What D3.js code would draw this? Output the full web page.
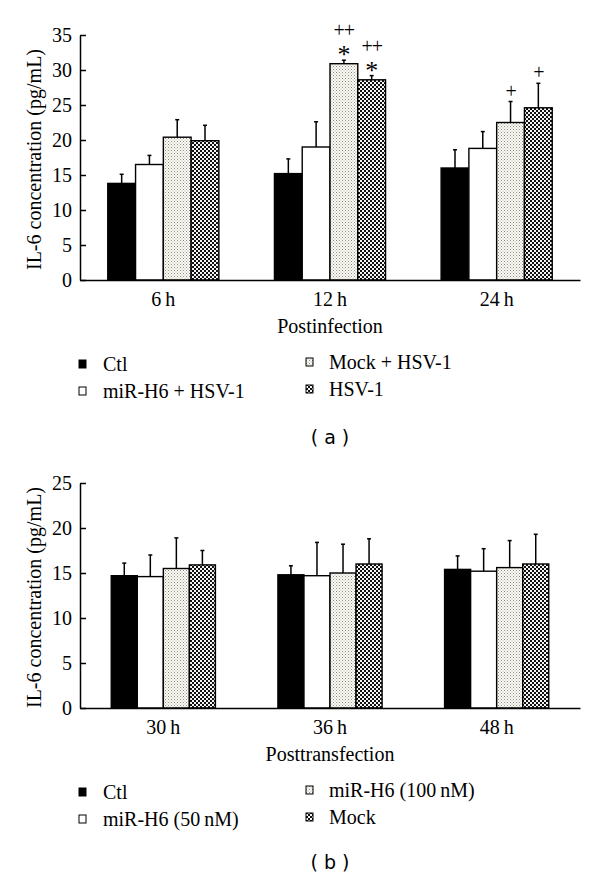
<!DOCTYPE html>
<html><head><meta charset="utf-8">
<script src="https://cdn.jsdelivr.net/npm/d3@7"></script>
<style>
body{margin:0;background:#fff;}
svg text{font-family:"Liberation Serif","Times New Roman",serif;fill:#000;}
</style></head>
<body><svg id="c" width="600" height="879"></svg>
<script>
// ---- data panel (a)
const catsA = ["6\u2009h","12\u2009h","24\u2009h"];
const seriesA = ["Ctl","miR-H6 + HSV-1","Mock + HSV-1","HSV-1"];
const ctlA   = [13.8, 15.2, 16.0];
const mirA   = [16.5, 19.0, 18.8];
const mockA  = [20.4, 30.9, 22.5];
const hsvA   = [19.9, 28.6, 24.6];
const ctlAErr  = [1.3, 2.1, 2.6];
const mirAErr  = [1.3, 3.6, 2.4];
const mockAErr = [2.5, 0.5, 3.0];
const hsvAErr  = [2.2, 0.6, 3.5];
const annotA = [
  {cat:1, s:2, labels:["*","++"]},
  {cat:1, s:3, labels:["*","++"]},
  {cat:2, s:2, labels:["+"]},
  {cat:2, s:3, labels:["+"]}
];
const ticksA = [0,5,10,15,20,25,30,35];

// ---- data panel (b)
const catsB = ["30\u2009h","36\u2009h","48\u2009h"];
const seriesB = ["Ctl","miR-H6 (50\u2009nM)","miR-H6 (100\u2009nM)","Mock"];
const ctlB   = [14.7, 14.8, 15.4];
const m50B   = [14.6, 14.7, 15.2];
const m100B  = [15.5, 15.0, 15.6];
const mockB  = [15.9, 16.0, 16.0];
const ctlBErr  = [1.4, 1.0, 1.5];
const m50BErr  = [2.4, 3.7, 2.5];
const m100BErr = [3.4, 3.2, 3.0];
const mockBErr = [1.6, 2.8, 3.3];
const ticksB = [0,5,10,15,20,25];

const svg = d3.select("#c");
const defs = svg.append("defs");
// stipple pattern
const p1 = defs.append("pattern").attr("id","dots").attr("patternUnits","userSpaceOnUse").attr("width",3).attr("height",3);
p1.append("rect").attr("width",3).attr("height",3).attr("fill","#fdfdf6");
p1.append("rect").attr("x",0).attr("y",0).attr("width",1).attr("height",1).attr("fill","#8c8c84");
p1.append("rect").attr("x",1.5).attr("y",1.5).attr("width",1).attr("height",1).attr("fill","#a8a0a0");
// checker pattern
const p2 = defs.append("pattern").attr("id","check").attr("patternUnits","userSpaceOnUse").attr("width",4).attr("height",4);
p2.append("rect").attr("width",4).attr("height",4).attr("fill","#111");
p2.append("rect").attr("x",0).attr("y",0).attr("width",2).attr("height",2).attr("fill","#f4f4f4");
p2.append("rect").attr("x",2).attr("y",2).attr("width",2).attr("height",2).attr("fill","#f4f4f4");

const fills = ["#000","#fff","url(#dots)","url(#check)"];
const FS = 20;

function panel(cfg){
  const x = d3.scaleBand().domain(cfg.cats).range([80,580]).paddingInner(cfg.pad).paddingOuter(cfg.pad/2);
  const xs = d3.scaleBand().domain(d3.range(4)).range([0,x.bandwidth()]);
  const y = d3.scaleLinear().domain([0,cfg.max]).range([cfg.y0,cfg.y1]);
  const g = svg.append("g");
  const rows = [];
  cfg.cats.forEach((c,i)=>{
    cfg.vals.forEach((arr,s)=>{
      rows.push({c, i, s, v:arr[i], e:cfg.errs[s][i]});
    });
  });
  const cxOf = d=>x(d.c)+xs(d.s)+xs.bandwidth()/2;
  // error bars
  g.selectAll("line.err").data(rows).join("line")
    .attr("x1",cxOf).attr("x2",cxOf)
    .attr("y1",d=>y(d.v)).attr("y2",d=>y(d.v+d.e)).attr("stroke","#000").attr("stroke-width",1.5);
  g.selectAll("line.cap").data(rows).join("line")
    .attr("x1",d=>cxOf(d)-2).attr("x2",d=>cxOf(d)+2)
    .attr("y1",d=>y(d.v+d.e)).attr("y2",d=>y(d.v+d.e)).attr("stroke","#000").attr("stroke-width",1.5);
  g.selectAll("rect.bar").data(rows).join("rect")
    .attr("x",d=>x(d.c)+xs(d.s)).attr("width",xs.bandwidth())
    .attr("y",d=>y(d.v)).attr("height",d=>y(0)-y(d.v))
    .attr("fill",d=>fills[d.s]).attr("stroke","#000").attr("stroke-width",1.4);
  // annotations
  (cfg.annot||[]).forEach(a=>{
    const cx = x(cfg.cats[a.cat])+xs(a.s)+xs.bandwidth()/2;
    const top = y(cfg.vals[a.s][a.cat]+cfg.errs[a.s][a.cat]);
    a.labels.forEach((t,k)=>{
      const txt = g.append("text").attr("x",cx).attr("text-anchor","middle").style("fill","#000").text(t);
      if(t==="*"){
        txt.attr("y", top+3).attr("font-size",26);
      } else {
        txt.attr("y", top - 4 - k*19).attr("font-size",20).attr("letter-spacing",-1);
      }
    });
  });
  // y axis
  const ya = d3.axisLeft(y).tickValues(cfg.ticks).tickSizeInner(-6).tickSizeOuter(0).tickPadding(8);
  const yg = g.append("g").attr("transform","translate(80,0)").call(ya);
  yg.selectAll("path,line").attr("stroke","#000").attr("stroke-width",1.5);
  yg.selectAll("text").attr("font-size",FS).attr("fill","#000");
  // x axis
  const xa = d3.axisBottom(x).tickSize(0).tickSizeOuter(0).tickPadding(12);
  const xg = g.append("g").attr("transform",`translate(0,${cfg.y0})`).call(xa);
  xg.selectAll("path").attr("stroke","#000").attr("stroke-width",1.5);
  xg.selectAll("text").attr("font-size",FS).attr("fill","#000");
  // titles
  g.append("text").attr("transform",`translate(34,${(cfg.y0+cfg.y1)/2+2}) rotate(-90)`)
    .attr("text-anchor","middle").attr("dominant-baseline","central").attr("font-size",FS).text("IL-6 concentration (pg/mL)");
  g.append("text").attr("x",330).attr("y",cfg.y0+53).attr("text-anchor","middle").attr("font-size",FS).text(cfg.xtitle);
  // legend
  const leg = [[79,103,cfg.ly],[79,103,cfg.ly+27],[306,329,cfg.ly-2],[306,329,cfg.ly+25]];
  cfg.series.forEach((s,i)=>{
    const [mx,tx,ly] = leg[i];
    g.append("rect").attr("x",mx).attr("y",ly-4).attr("width",7).attr("height",8)
      .attr("fill",fills[i]).attr("stroke","#000").attr("stroke-width",1);
    g.append("text").attr("x",tx).attr("y",ly).attr("dominant-baseline","central").attr("font-size",FS).text(s);
  });
  g.append("text").attr("x",330).attr("y",cfg.labY).attr("text-anchor","middle").attr("dominant-baseline","central")
    .attr("font-size",19).style("font-family","Verdana, 'DejaVu Sans', sans-serif").text(cfg.label);
}

panel({cats:catsA, series:seriesA, vals:[ctlA,mirA,mockA,hsvA], errs:[ctlAErr,mirAErr,mockAErr,hsvAErr],
  annot:annotA, ticks:ticksA, max:35, y0:280, y1:35, pad:1/3, xtitle:"Postinfection", ly:364, labY:437, label:"( a )"});
panel({cats:catsB, series:seriesB, vals:[ctlB,m50B,m100B,mockB], errs:[ctlBErr,m50BErr,m100BErr,mockBErr],
  ticks:ticksB, max:25, y0:708, y1:483, pad:0.375, xtitle:"Posttransfection", ly:792, labY:862, label:"( b )"});
</script></body></html>
